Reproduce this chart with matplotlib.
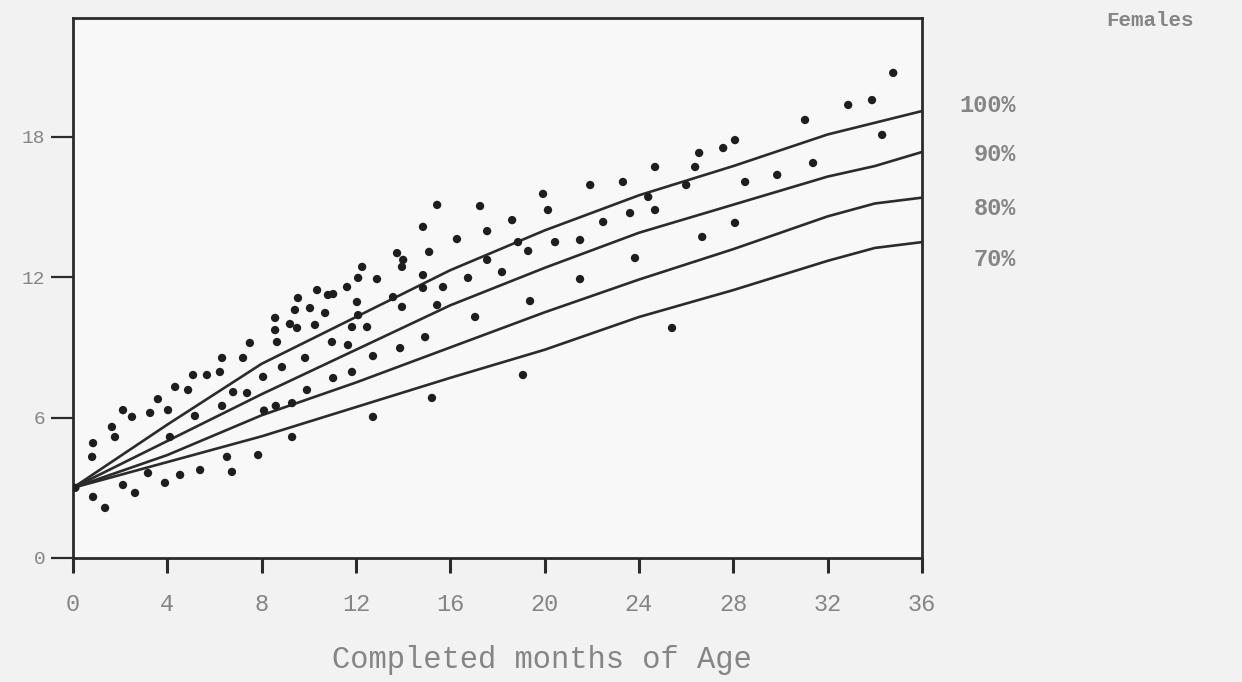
import matplotlib.pyplot as plt

# reference curves (weight by completed months of age)
months = [0, 4, 8, 12, 16, 20, 24, 28, 32, 34, 36]
p100 = [3.0, 5.7, 8.3, 10.3, 12.3, 14.0, 15.5, 16.75, 18.1, 18.6, 19.1]
p90 = [3.0, 5.0, 7.0, 8.9, 10.8, 12.4, 13.9, 15.1, 16.3, 16.75, 17.35]
p80 = [3.0, 4.4, 6.1, 7.5, 9.0, 10.5, 11.9, 13.2, 14.6, 15.15, 15.4]
p70 = [3.0, 4.1, 5.2, 6.45, 7.7, 8.9, 10.3, 11.45, 12.7, 13.25, 13.5]
curve_labels = ["100%", "90%", "80%", "70%"]

# observed children
age = [0.1, 0.85, 1.36, 0.81, 0.85, 1.65, 1.78, 2.12, 2.5, 2.12, 2.63, 3.18,
       3.27, 3.6, 3.9, 4.03, 4.11, 4.33, 4.54, 4.88, 5.09, 5.17, 5.39, 5.68,
       6.23, 6.32, 6.32, 6.53, 6.74, 6.79, 7.21, 7.38, 7.5, 7.85, 8.06, 8.1,
       8.6, 8.57, 8.57, 8.65, 8.86, 9.2, 9.29, 9.29, 9.41, 9.5, 9.54, 9.84,
       9.92, 10.05, 10.26, 10.35, 10.69, 10.81, 10.98, 11.03, 11.03, 11.62,
       11.66, 11.83, 11.83, 12.04, 12.09, 12.09, 12.26, 12.47, 12.72, 12.72,
       12.89, 13.57, 13.74, 13.87, 13.95, 13.95, 14.0, 14.84, 14.84, 14.84,
       14.93, 15.1, 15.22, 15.44, 15.44, 15.69, 16.28, 16.75, 17.05, 17.26,
       17.56, 17.56, 18.19, 18.62, 18.87, 19.08, 19.3, 19.38, 19.93, 20.14,
       20.44, 21.5, 21.5, 21.93, 22.48, 23.32, 23.62, 23.83, 24.39, 24.68,
       24.68, 25.4, 26.0, 26.38, 26.55, 26.68, 27.57, 28.07, 28.07, 28.5,
       29.86, 31.04, 31.38, 32.87, 33.88, 34.31, 34.78]
weight = [3.0, 2.61, 2.14, 4.32, 4.91, 5.6, 5.17, 6.32, 6.03, 3.12, 2.78, 3.63,
          6.2, 6.79, 3.21, 6.32, 5.17, 7.31, 3.55, 7.18, 7.82, 6.07, 3.76, 7.82,
          7.95, 8.55, 6.5, 4.32, 3.68, 7.09, 8.55, 7.05, 9.19, 4.4, 7.74, 6.3,
          6.5, 10.26, 9.74, 9.23, 8.16, 10.0, 6.62, 5.17, 10.6, 9.83, 11.11, 8.55,
          7.18, 10.68, 9.96, 11.45, 10.47, 11.24, 9.23, 11.28, 7.69, 11.58,
          9.1, 9.87, 7.95, 10.94, 11.97, 10.38, 12.44, 9.87, 8.63, 6.03,
          11.92, 11.15, 13.03, 8.97, 12.44, 10.73, 12.74, 14.15, 12.09, 11.54,
          9.44, 13.08, 6.84, 15.09, 10.81, 11.58, 13.63, 11.97, 10.3, 15.04,
          13.97, 12.74, 12.22, 14.44, 13.5, 7.82, 13.12, 10.98, 15.56, 14.87,
          13.5, 13.59, 11.92, 15.94, 14.36, 16.07, 14.74, 12.82, 15.43, 16.71,
          14.87, 9.83, 15.94, 16.71, 17.31, 13.72, 17.52, 17.86, 14.32, 16.07,
          16.37, 18.72, 16.88, 19.36, 19.57, 18.08, 20.73]

xticks = [0, 4, 8, 12, 16, 20, 24, 28, 32, 36]
yticks = [0, 6, 12, 18]

mono = "Liberation Mono"
ink = "#2b2b2b"
grey = "#858585"

fig = plt.figure(figsize=(12.42, 6.82), dpi=100, facecolor="#f2f2f2")
ax = fig.add_axes([73 / 1242, 1 - 558 / 682, 849 / 1242, 540 / 682])
ax.set_facecolor("#f8f8f8")

for vals in (p100, p90, p80, p70):
    ax.plot(months, vals, color=ink, lw=1.9, solid_capstyle="round",
            solid_joinstyle="round")

ax.scatter(age, weight, s=36, color="#1e1e1e", edgecolors="none", zorder=3)

ax.set_xlim(0, 36)
ax.set_ylim(0, 540 / 23.4)
ax.set_xticks(xticks)
ax.set_yticks(yticks)
ax.tick_params(axis="x", direction="out", length=11, width=2.2, color=ink,
               labelsize=17, labelcolor=grey, pad=14)
ax.tick_params(axis="y", direction="out", length=16, width=1.6, color=ink,
               labelsize=14, labelcolor=grey, pad=4)
for lab in ax.get_xticklabels() + ax.get_yticklabels():
    lab.set_family(mono)
for sp in ax.spines.values():
    sp.set_color(ink)
    sp.set_linewidth(2.0)

# curve labels to the right of the plot
offsets = [0.25, -0.1, -0.45, -0.75]
for vals, lab, off in zip((p100, p90, p80, p70), curve_labels, offsets):
    ax.text(40.0, vals[-1] + off, lab, ha="right", va="center", family=mono,
            fontsize=17, fontweight="bold", color=grey, clip_on=False)

fig.text(1150 / 1242, 1 - 20 / 682, "Females", ha="center", va="center",
         family=mono, fontsize=15, fontweight="bold", color=grey)
fig.text(542 / 1242, 1 - 660 / 682, "Completed months of Age", ha="center",
         va="center", family=mono, fontsize=22, color=grey)

fig.savefig("out.png", dpi=100, facecolor=fig.get_facecolor())
